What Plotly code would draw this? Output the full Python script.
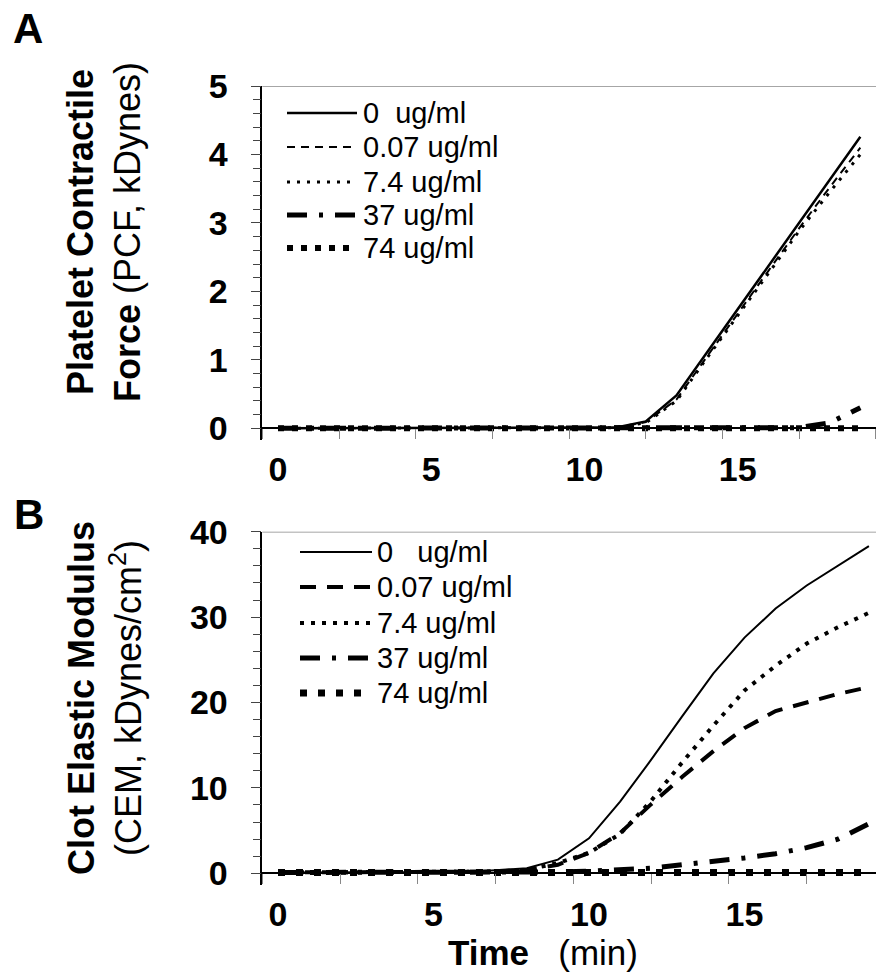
import plotly.graph_objects as go

# ---------------- data ----------------
time_min = [0, 1, 2, 3, 4, 5, 6, 7, 8, 9, 10, 11, 12, 13, 14, 15, 16, 17, 18, 19]
series_names = ["0  ug/ml", "0.07 ug/ml", "7.4 ug/ml", "37 ug/ml", "74 ug/ml"]
series_names_b = ["0   ug/ml", "0.07 ug/ml", "7.4 ug/ml", "37 ug/ml", "74 ug/ml"]

# Panel A: Platelet Contractile Force (kDynes)
pcf_0 = [0, 0, 0, 0, 0, 0, 0, 0, 0, 0, 0, 0.01, 0.10, 0.48, 1.11, 1.74, 2.37, 3.00, 3.63, 4.26]
pcf_007 = [0, 0, 0, 0, 0, 0, 0, 0, 0, 0, 0, 0.01, 0.09, 0.42, 1.05, 1.68, 2.30, 2.92, 3.52, 4.10]
pcf_74 = [0, 0, 0, 0, 0, 0, 0, 0, 0, 0, 0, 0.01, 0.08, 0.40, 1.03, 1.65, 2.27, 2.88, 3.45, 4.00]
pcf_37 = [0, 0, 0, 0, 0, 0, 0, 0, 0, 0, 0, 0, 0, 0, 0, 0, 0, 0.01, 0.08, 0.30]
pcf_740 = [0, 0, 0, 0, 0, 0, 0, 0, 0, 0, 0, 0, 0, 0, 0, 0, 0, 0, 0, 0]

# Panel B: Clot Elastic Modulus (kDynes/cm2)
cem_0 = [0.1, 0.1, 0.1, 0.1, 0.1, 0.1, 0.15, 0.35, 0.6, 1.6, 4.1, 8.4, 13.3, 18.4, 23.4, 27.6, 31.0, 33.7, 36.0, 38.3]
cem_007 = [0.1, 0.1, 0.1, 0.1, 0.1, 0.1, 0.1, 0.2, 0.4, 1.0, 2.4, 4.7, 8.1, 11.3, 14.3, 17.0, 19.0, 20.0, 21.0, 21.8]
cem_74 = [0.1, 0.1, 0.1, 0.1, 0.1, 0.1, 0.1, 0.2, 0.4, 1.2, 2.4, 4.6, 8.5, 13.0, 17.3, 21.4, 24.3, 26.9, 28.8, 30.5]
cem_37 = [0.1, 0.1, 0.1, 0.1, 0.1, 0.1, 0.1, 0.1, 0.1, 0.15, 0.25, 0.45, 0.6, 1.0, 1.35, 1.8, 2.3, 3.0, 4.0, 5.8]
cem_740 = [0.1, 0.1, 0.1, 0.1, 0.1, 0.1, 0.1, 0.1, 0.1, 0.1, 0.1, 0.1, 0.1, 0.1, 0.1, 0.1, 0.1, 0.1, 0.1, 0.1]

x_tick_vals = [0, 5, 10, 15]
x_tick_text = ["0", "5", "10", "15"]
ya_tick_vals = [0, 1, 2, 3, 4, 5]
yb_tick_vals = [0, 10, 20, 30, 40]

# ---------------- styles ----------------
W, H = 876, 980
FONT = "Liberation Sans, Arial, sans-serif"
style_a = [
    dict(width=2.5, dash="solid"),
    dict(width=2, dash="8px,6px"),
    dict(width=3, dash="3px,7px"),
    dict(width=5, dash="20px,12px,4px,12px"),
    dict(width=6, dash="6px,8px"),
]
style_b = [
    dict(width=2, dash="solid"),
    dict(width=4, dash="16px,11px"),
    dict(width=4, dash="4px,7px"),
    dict(width=5, dash="20px,12px,4px,12px"),
    dict(width=7, dash="7px,11px"),
]

fig = go.Figure()
data_a = [pcf_0, pcf_007, pcf_74, pcf_37, pcf_740]
data_b = [cem_0, cem_007, cem_74, cem_37, cem_740]
for name, ys, st in zip(series_names, data_a, style_a):
    fig.add_trace(go.Scatter(x=time_min, y=ys, mode="lines", name=name, showlegend=False,
                             line=dict(color="black", width=st["width"], dash=st["dash"]),
                             xaxis="x", yaxis="y"))
for name, ys, st in zip(series_names_b, data_b, style_b):
    fig.add_trace(go.Scatter(x=time_min, y=ys, mode="lines", name=name, showlegend=False,
                             line=dict(color="black", width=st["width"], dash=st["dash"]),
                             xaxis="x2", yaxis="y2"))

def px_x(p):
    return p / W

def px_y(p):
    return 1 - p / H

x_left = 262.3
tickfont = dict(family=FONT, size=34, color="black", weight="bold")

common_x = dict(showgrid=False, zeroline=False, showline=True, linecolor="black", linewidth=1.5,
                tickmode="array", tickvals=x_tick_vals, ticktext=x_tick_text, ticks="",
                tickfont=tickfont, ticklabelstandoff=11,
                minor=dict(ticks="outside", tickmode="linear", tick0=-0.5, dtick=2.5,
                           ticklen=10, tickcolor="#888", tickwidth=1.2, showgrid=False),
                domain=[px_x(x_left), 1], anchor="free", automargin=False)
common_y = dict(showgrid=False, zeroline=False, showline=True, linecolor="black", linewidth=1.5,
                ticks="outside", ticklen=10, tickcolor="#444", tickwidth=1.2,
                tickfont=tickfont, ticklabelstandoff=16, automargin=False)

# Panel A axes: y=0 at 428.3px, y=5 at 86px
a_ppu = (428.3 - 86) / 5
a_ext = 12 / a_ppu
fig.update_layout(
    xaxis=dict(**common_x, range=[(x_left - 278) / 30.65, (W - 278) / 30.65], position=px_y(428.3)),
    yaxis=dict(**common_y, range=[-a_ext, 5], domain=[px_y(428.3 + 12), px_y(86)], anchor="x",
               tickmode="array", tickvals=ya_tick_vals,
               minor=dict(ticks="outside", tickmode="linear", tick0=0, dtick=0.2, ticklen=8,
                          tickcolor="#444", tickwidth=1.2, showgrid=False)),
)
# Panel B axes: y=0 at 873.3px, y=40 at 531.7px
b_ppu = (873.3 - 531.7) / 40
b_ext = 12 / b_ppu
fig.update_layout(
    xaxis2=dict(**common_x, range=[(x_left - 278) / 31.1, (W - 278) / 31.1], position=px_y(873.3)),
    yaxis2=dict(**common_y, range=[-b_ext, 40], domain=[px_y(873.3 + 12), px_y(531.7)], anchor="x2",
                tickmode="array", tickvals=yb_tick_vals,
                minor=dict(ticks="outside", tickmode="linear", tick0=0, dtick=2, ticklen=8,
                           tickcolor="#444", tickwidth=1.2, showgrid=False)),
)

shapes = [
    dict(type="line", xref="x domain", yref="y", x0=0, x1=1, y0=5, y1=5,
         line=dict(color="#888", width=1.5)),
    dict(type="line", xref="x2 domain", yref="y2", x0=0, x1=1, y0=40, y1=40,
         line=dict(color="#888", width=1.5)),
]
annotations = []
legfont = dict(family=FONT, size=29, color="black")

# legend A
rows_a = [113, 147, 182, 215, 248]
for name, st, ry in zip(series_names, style_a, rows_a):
    shapes.append(dict(type="line", xref="paper", yref="paper", x0=px_x(287), x1=px_x(357),
                       y0=px_y(ry), y1=px_y(ry), line=dict(color="black", width=st["width"], dash=st["dash"])))
    annotations.append(dict(text=name.replace(" ", "\u00a0"), xref="paper", yref="paper", x=px_x(361), y=px_y(ry),
                            xanchor="left", yanchor="middle", showarrow=False, font=legfont))
# legend B
rows_b = [552, 587, 623, 658, 693]
for name, st, ry in zip(series_names_b, style_b, rows_b):
    shapes.append(dict(type="line", xref="paper", yref="paper", x0=px_x(300), x1=px_x(372),
                       y0=px_y(ry), y1=px_y(ry), line=dict(color="black", width=st["width"], dash=st["dash"])))
    annotations.append(dict(text=name.replace(" ", "\u00a0"), xref="paper", yref="paper", x=px_x(375), y=px_y(ry),
                            xanchor="left", yanchor="middle", showarrow=False, font=legfont))

titlefont = dict(family=FONT, size=36, color="black")
annotations += [
    dict(text="<b>A</b>", xref="paper", yref="paper", x=px_x(28), y=px_y(28), xanchor="center", yanchor="middle",
         showarrow=False, font=dict(family=FONT, size=42, color="black")),
    dict(text="<b>B</b>", xref="paper", yref="paper", x=px_x(29), y=px_y(514), xanchor="center", yanchor="middle",
         showarrow=False, font=dict(family=FONT, size=42, color="black")),
    dict(text="<b>Platelet Contractile</b><br><b>Force</b> (PCF, kDynes)", xref="paper", yref="paper",
         x=px_x(104), y=px_y(232), xanchor="center", yanchor="middle", textangle=-90, showarrow=False,
         font=titlefont),
    dict(text="<b>Clot Elastic Modulus</b><br>(CEM, kDynes/cm<sup>2</sup>)", xref="paper", yref="paper",
         x=px_x(105), y=px_y(698), xanchor="center", yanchor="middle", textangle=-90, showarrow=False,
         font=titlefont),
    dict(text="<b>Time</b>\u00a0\u00a0\u00a0(min)", xref="paper", yref="paper",
         x=px_x(543), y=px_y(952), xanchor="center", yanchor="middle", showarrow=False,
         font=dict(family=FONT, size=35, color="black")),
]

fig.update_layout(
    width=W, height=H, margin=dict(l=0, r=0, t=0, b=0),
    paper_bgcolor="white", plot_bgcolor="white",
    shapes=shapes, annotations=annotations, showlegend=False,
    font=dict(family=FONT, color="black"),
)

fig.write_html("out.html", config={"displayModeBar": False},
               post_script="document.body.style.margin='0px';document.body.style.padding='0px';")
